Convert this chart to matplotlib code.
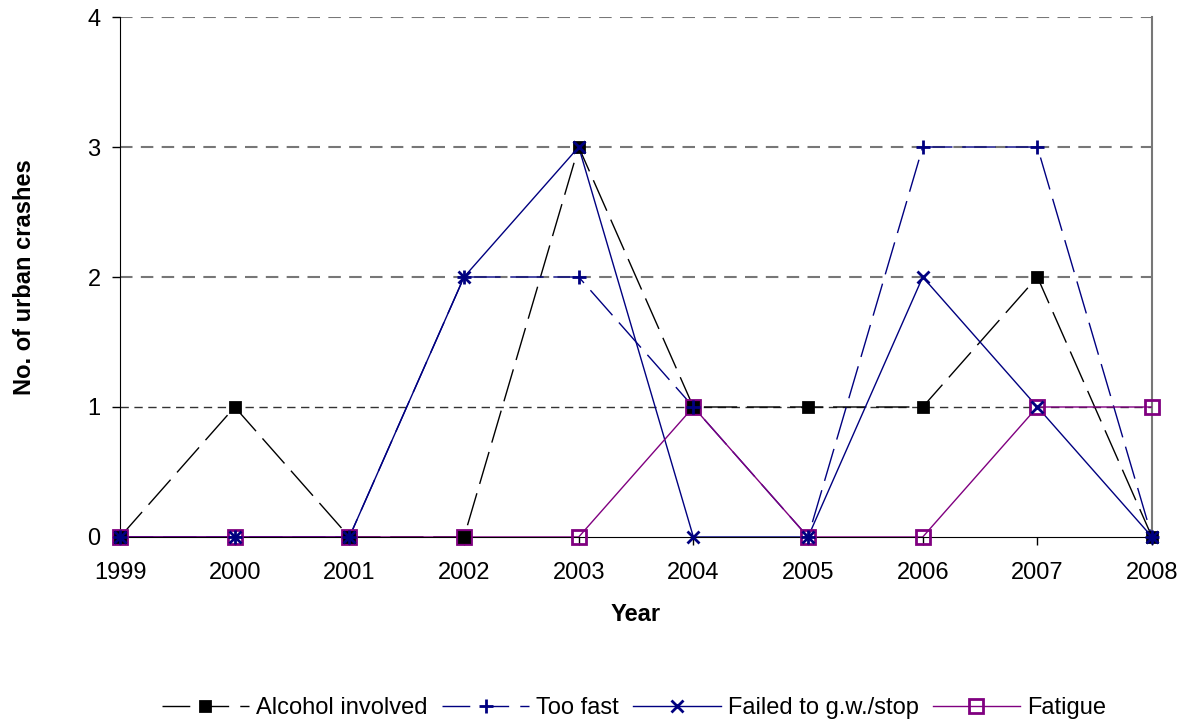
import matplotlib
matplotlib.use("Agg")
import matplotlib.pyplot as plt
from matplotlib.lines import Line2D

plt.rcParams['font.family'] = ['Liberation Sans', 'DejaVu Sans']

# Data
years = [1999, 2000, 2001, 2002, 2003, 2004, 2005, 2006, 2007, 2008]
alcohol = [0, 1, 0, 0, 3, 1, 1, 1, 2, 0]
too_fast = [0, 0, 0, 2, 2, 1, 0, 3, 3, 0]
failed_gw = [0, 0, 0, 2, 3, 0, 0, 2, 1, 0]
fatigue = [0, 0, 0, 0, 0, 1, 0, 0, 1, 1]

labels = ["Alcohol involved", "Too fast", "Failed to g.w./stop", "Fatigue"]
y_ticks = [0, 1, 2, 3, 4]

NAVY = '#000080'
PURPLE = '#800080'
long_dash = (0, (24, 7))
legend_dash = (0, (20, 8))

# (values, color, linestyle, marker, marker size, face, line z, marker z)
series = [
    (alcohol, 'black', long_dash, 's', 7, 'black', 3, 7),
    (too_fast, NAVY, long_dash, '+', 10, NAVY, 4, 8),
    (failed_gw, NAVY, '-', 'x', 8, NAVY, 5, 9),
    (fatigue, PURPLE, '-', 's', 10, 'none', 6, 6),
]

fig = plt.figure(figsize=(11.85, 7.24), dpi=100)
ax = fig.add_axes([0.1013, 0.2583, 0.8709, 0.7182])

handles = []
for (vals, col, ls, mk, ms, fc, lz, mz), lab in zip(series, labels):
    ax.plot(years, vals, color=col, linestyle=ls, linewidth=1.0, zorder=lz)
    ax.plot(years, vals, linestyle='none', marker=mk, markersize=ms,
            markerfacecolor=fc, markeredgecolor=col, markeredgewidth=2,
            zorder=mz, clip_on=False)
    handles.append(Line2D([], [], color=col,
                          linestyle=legend_dash if ls != '-' else '-',
                          linewidth=1.0, marker=mk, markersize=ms,
                          markerfacecolor=fc, markeredgecolor=col,
                          markeredgewidth=2))

# Dashed gridlines, including the top one at 4
for y in y_ticks[1:]:
    ax.axhline(y, color='#333333' if y == 1 else '#777777', linestyle=(0, (6, 4)),
               linewidth=1.0 if y == 1 else 1.5, zorder=1)

ax.set_xlim(1999, 2008)
ax.set_ylim(0, 4)
ax.set_xticks(years)
ax.set_yticks(y_ticks)
ax.tick_params(axis='both', labelsize=17, direction='out', length=6, width=1)
ax.tick_params(axis='x', pad=12)
ax.tick_params(axis='y', pad=8)

ax.spines['top'].set_visible(False)
ax.spines['right'].set_color('#777777')
ax.spines['right'].set_linewidth(1.5)
ax.spines['left'].set_color('black')
ax.spines['bottom'].set_color('black')

ax.set_xlabel("Year", fontsize=17, fontweight='bold', labelpad=14)
ax.set_ylabel("No. of urban crashes", fontsize=17, fontweight='bold', labelpad=37)

fig.legend(handles, labels, loc='center', bbox_to_anchor=(0.535, 0.022), ncol=4,
           frameon=False, fontsize=17, handlelength=3.7, handletextpad=0.3,
           columnspacing=0.6)

plt.savefig("out.png", dpi=100)
